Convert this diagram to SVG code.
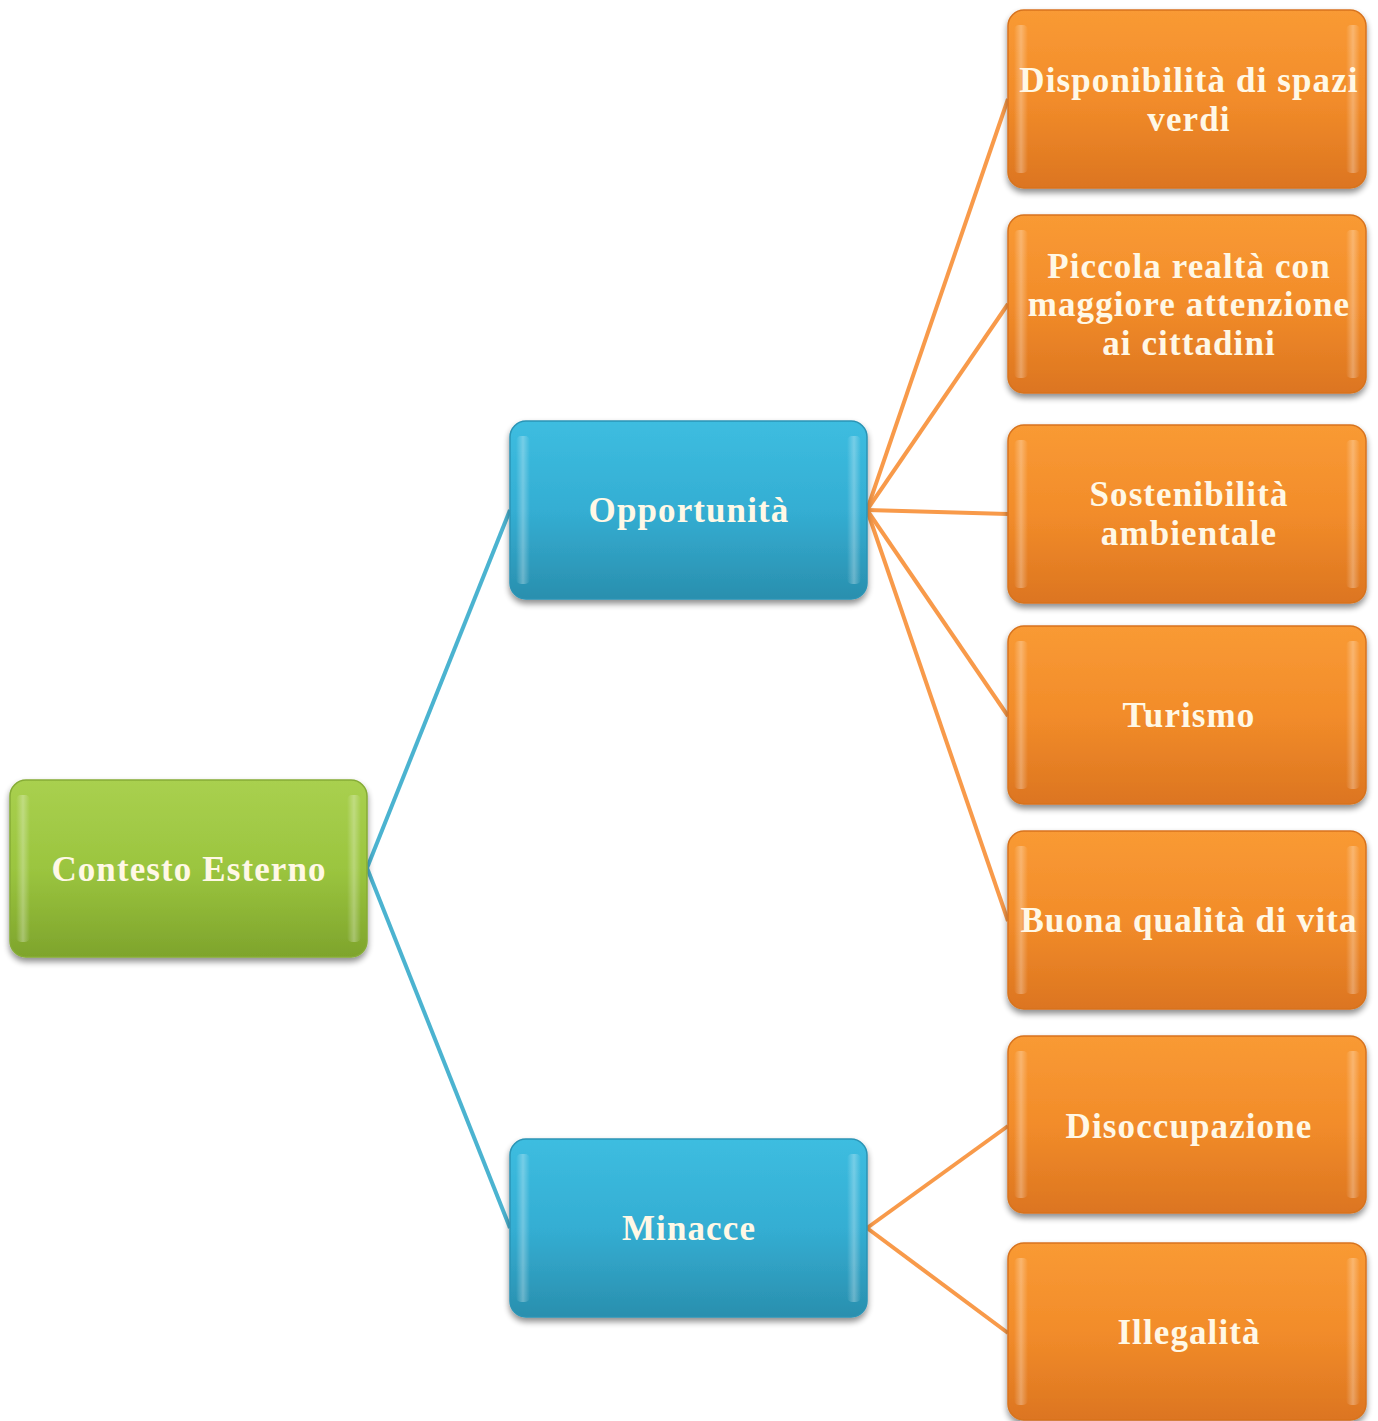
<svg xmlns="http://www.w3.org/2000/svg" width="1378" height="1421" viewBox="0 0 1378 1421">
<defs>
<linearGradient id="gGreen" x1="0" y1="0" x2="0" y2="1">
<stop offset="0" stop-color="#A9D04F"/><stop offset="0.5" stop-color="#9BC53F"/><stop offset="1" stop-color="#7EA42C"/>
</linearGradient>
<linearGradient id="gBlue" x1="0" y1="0" x2="0" y2="1">
<stop offset="0" stop-color="#3DBDE0"/><stop offset="0.5" stop-color="#34AED3"/><stop offset="1" stop-color="#2A8FAE"/>
</linearGradient>
<linearGradient id="gOrange" x1="0" y1="0" x2="0" y2="1">
<stop offset="0" stop-color="#F99A34"/><stop offset="0.5" stop-color="#F28C2A"/><stop offset="1" stop-color="#DC7520"/>
</linearGradient>
<linearGradient id="gEdge" x1="0" y1="0" x2="1" y2="0">
<stop offset="0" stop-color="#FFFFFF" stop-opacity="0"/><stop offset="0.5" stop-color="#FFFFFF" stop-opacity="0.3"/><stop offset="1" stop-color="#FFFFFF" stop-opacity="0"/>
</linearGradient>
<filter id="shadow" x="-10%" y="-10%" width="120%" height="125%">
<feGaussianBlur in="SourceAlpha" stdDeviation="3"/>
<feOffset dx="0" dy="4" result="b"/>
<feComponentTransfer><feFuncA type="linear" slope="0.45"/></feComponentTransfer>
<feMerge><feMergeNode/><feMergeNode in="SourceGraphic"/></feMerge>
</filter>
</defs>
<style>
.box{filter:url(#shadow);}
.green{fill:url(#gGreen);stroke:#86AC36;stroke-width:1.5;}
.blue{fill:url(#gBlue);stroke:#2B94B5;stroke-width:1.5;}
.orange{fill:url(#gOrange);stroke:#D7731F;stroke-width:1.5;}
.edge{fill:url(#gEdge);}
.lbl{font-family:"Liberation Serif","Times New Roman",serif;font-weight:bold;font-size:35px;letter-spacing:1.1px;fill:#FFF8E6;text-anchor:middle;}
.cb{stroke:#4BB3D0;stroke-width:4;fill:none;}
.co{stroke:#F89A4A;stroke-width:4;fill:none;}
</style>
<rect width="1378" height="1421" fill="#FFFFFF"/>
<g id="connectors">
<line class="cb" x1="367" y1="868" x2="510" y2="510"/>
<line class="cb" x1="367" y1="868" x2="510" y2="1228"/>
<line class="co" x1="867" y1="510" x2="1008" y2="99"/>
<line class="co" x1="867" y1="510" x2="1008" y2="304"/>
<line class="co" x1="867" y1="510" x2="1008" y2="514"/>
<line class="co" x1="867" y1="510" x2="1008" y2="716"/>
<line class="co" x1="867" y1="510" x2="1008" y2="921"/>
<line class="co" x1="867" y1="1228" x2="1008" y2="1126"/>
<line class="co" x1="867" y1="1228" x2="1008" y2="1333"/>
</g>
<g id="contesto-esterno">
<rect class="box green" x="10" y="780" width="357" height="177" rx="16"/>
<rect class="edge" x="16" y="795" width="14" height="147" rx="5"/>
<rect class="edge" x="347" y="795" width="14" height="147" rx="5"/>
<text class="lbl" x="189" y="881">Contesto Esterno</text>
</g>
<g id="opportunita">
<rect class="box blue" x="510" y="421" width="357" height="178" rx="16"/>
<rect class="edge" x="516" y="436" width="14" height="148" rx="5"/>
<rect class="edge" x="847" y="436" width="14" height="148" rx="5"/>
<text class="lbl" x="689" y="522">Opportunità</text>
</g>
<g id="minacce">
<rect class="box blue" x="510" y="1139" width="357" height="178" rx="16"/>
<rect class="edge" x="516" y="1154" width="14" height="148" rx="5"/>
<rect class="edge" x="847" y="1154" width="14" height="148" rx="5"/>
<text class="lbl" x="689" y="1240">Minacce</text>
</g>
<g id="spazi-verdi">
<rect class="box orange" x="1008" y="10" width="358" height="178" rx="16"/>
<rect class="edge" x="1014" y="25" width="14" height="148" rx="5"/>
<rect class="edge" x="1346" y="25" width="14" height="148" rx="5"/>
<text class="lbl" x="1189" y="92">Disponibilità di spazi</text>
<text class="lbl" x="1189" y="131">verdi</text>
</g>
<g id="piccola-realta">
<rect class="box orange" x="1008" y="215" width="358" height="178" rx="16"/>
<rect class="edge" x="1014" y="230" width="14" height="148" rx="5"/>
<rect class="edge" x="1346" y="230" width="14" height="148" rx="5"/>
<text class="lbl" x="1189" y="278">Piccola realtà con</text>
<text class="lbl" x="1189" y="316">maggiore attenzione</text>
<text class="lbl" x="1189" y="355">ai cittadini</text>
</g>
<g id="sostenibilita">
<rect class="box orange" x="1008" y="425" width="358" height="178" rx="16"/>
<rect class="edge" x="1014" y="440" width="14" height="148" rx="5"/>
<rect class="edge" x="1346" y="440" width="14" height="148" rx="5"/>
<text class="lbl" x="1189" y="506">Sostenibilità</text>
<text class="lbl" x="1189" y="545">ambientale</text>
</g>
<g id="turismo">
<rect class="box orange" x="1008" y="626" width="358" height="178" rx="16"/>
<rect class="edge" x="1014" y="641" width="14" height="148" rx="5"/>
<rect class="edge" x="1346" y="641" width="14" height="148" rx="5"/>
<text class="lbl" x="1189" y="727">Turismo</text>
</g>
<g id="qualita-vita">
<rect class="box orange" x="1008" y="831" width="358" height="178" rx="16"/>
<rect class="edge" x="1014" y="846" width="14" height="148" rx="5"/>
<rect class="edge" x="1346" y="846" width="14" height="148" rx="5"/>
<text class="lbl" x="1189" y="932">Buona qualità di vita</text>
</g>
<g id="disoccupazione">
<rect class="box orange" x="1008" y="1036" width="358" height="177" rx="16"/>
<rect class="edge" x="1014" y="1051" width="14" height="147" rx="5"/>
<rect class="edge" x="1346" y="1051" width="14" height="147" rx="5"/>
<text class="lbl" x="1189" y="1138">Disoccupazione</text>
</g>
<g id="illegalita">
<rect class="box orange" x="1008" y="1243" width="358" height="177" rx="16"/>
<rect class="edge" x="1014" y="1258" width="14" height="147" rx="5"/>
<rect class="edge" x="1346" y="1258" width="14" height="147" rx="5"/>
<text class="lbl" x="1189" y="1344">Illegalità</text>
</g>
</svg>
